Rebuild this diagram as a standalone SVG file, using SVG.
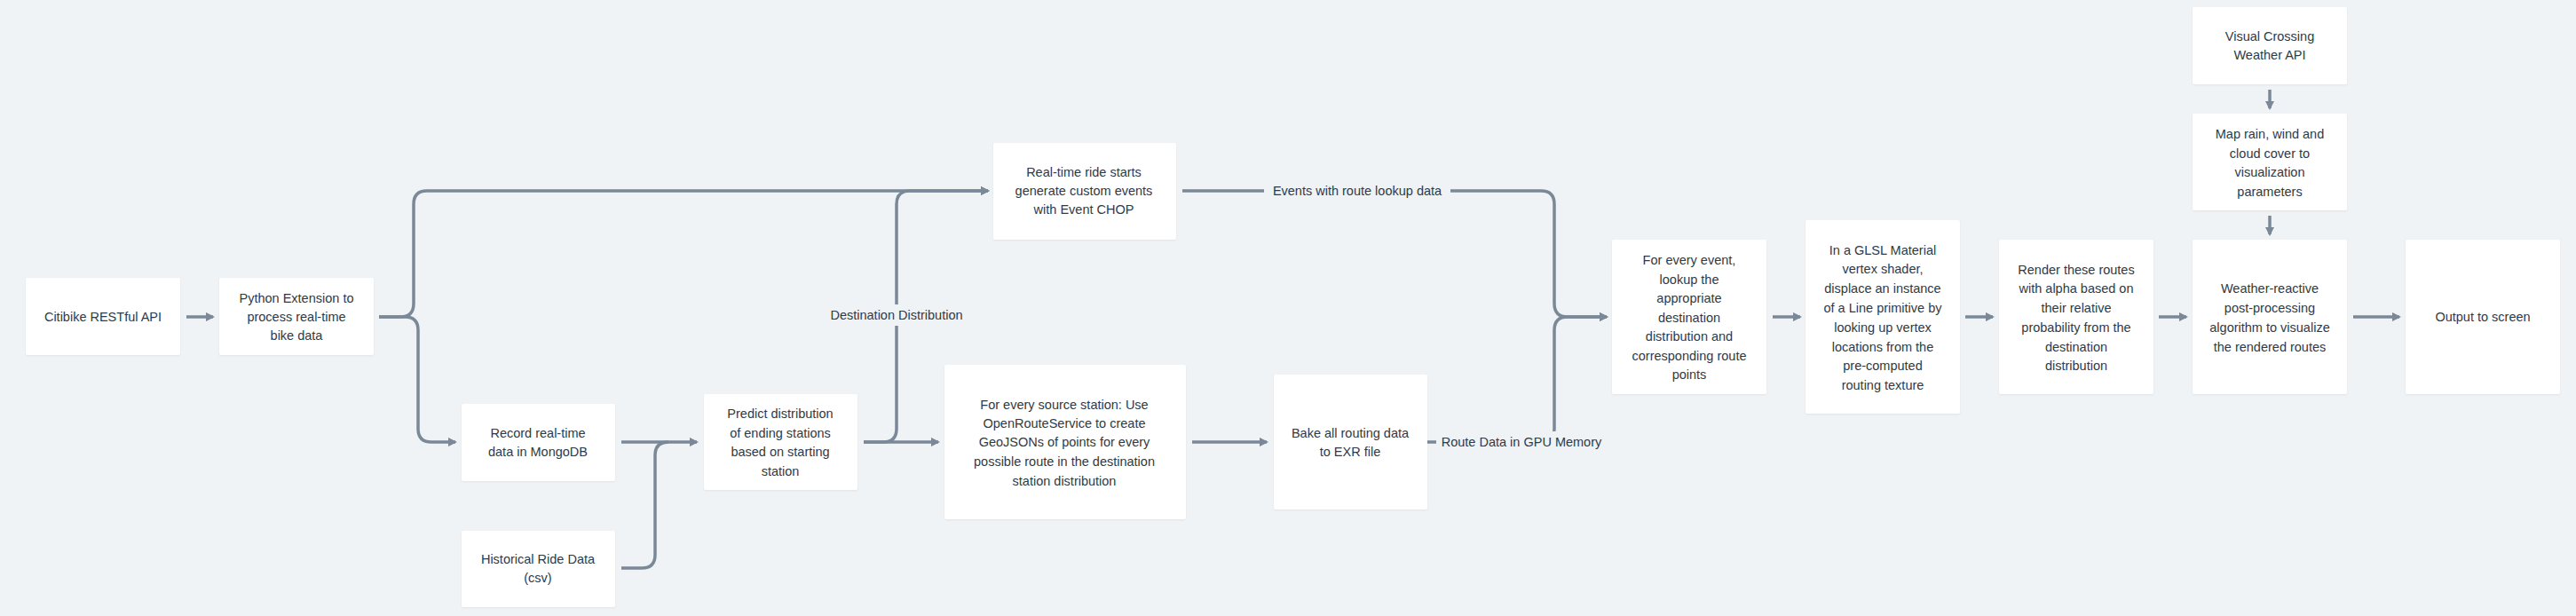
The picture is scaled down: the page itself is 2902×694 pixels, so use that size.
<svg xmlns="http://www.w3.org/2000/svg" width="2902" height="694" viewBox="0 0 2902 694">
<style>
.n rect{fill:#fff;filter:drop-shadow(0 1px 1px rgba(0,0,0,0.06))}
text{font-family:"Liberation Sans",Arial,sans-serif;font-size:14.5px;fill:#2f3a45;text-anchor:middle;dominant-baseline:central}
.c path{fill:none;stroke:#7a8898;stroke-width:3.5;marker-end:url(#a)}
.c path.nm{marker-end:none}
.lb{fill:#eff3f6}
</style>
<defs><marker id="a" viewBox="0 0 10 10" refX="8" refY="5" markerWidth="3" markerHeight="3" orient="auto" markerUnits="strokeWidth"><path d="M0,0 L10,5 L0,10 z" fill="#7a8898"/></marker></defs>
<rect width="2902" height="694" fill="#eff3f6"/>
<g class="c">
<path d="M210,357 H240"/>
<path d="M427,357 H451 Q466,357 466,342 V230 Q466,215 481,215 H1113"/>
<path d="M427,357 H456 Q471,357 471,372 V483 Q471,498 486,498 H513"/>
<path d="M700,498 H785"/>
<path class="nm" d="M700,640 H723 Q738,640 738,625 V513 Q738,498 753,498"/>
<path d="M973,498 H995 Q1010,498 1010,483 V230 Q1010,215 1025,215 H1113"/>
<path d="M973,498 H1057"/>
<path d="M1343,498 H1427"/>
<path d="M1332,215 H1736 Q1751,215 1751,230 V342 Q1751,357 1766,357 H1810"/>
<path d="M1608,498 H1736 Q1751,498 1751,483 V372 Q1751,357 1766,357 H1810"/>
<path d="M1997,357 H2028"/>
<path d="M2214,357 H2245"/>
<path d="M2432,357 H2463"/>
<path d="M2651,357 H2703"/>
<path d="M2557,101 V122"/>
<path d="M2557,243 V264"/>
<rect class="lb" x="923" y="343" width="174" height="24"/>
<text x="1010" y="355">Destination Distribution</text>
<rect class="lb" x="1424" y="203" width="210" height="24"/>
<text x="1529" y="215">Events with route lookup data</text>
<rect class="lb" x="1618" y="486" width="194" height="24"/>
<text x="1714" y="498">Route Data in GPU Memory</text>
</g>
<g id="citibike" class="n"><rect x="29" y="313" width="174" height="87" rx="2"/><text x="116" y="357">Citibike RESTful API</text></g>
<g id="python" class="n"><rect x="247" y="313" width="174" height="87" rx="2"/><text x="334" y="336">Python Extension to</text><text x="334" y="357">process real-time</text><text x="334" y="378">bike data</text></g>
<g id="record" class="n"><rect x="520" y="455" width="173" height="87" rx="2"/><text x="606" y="488">Record real-time</text><text x="606" y="509">data in MongoDB</text></g>
<g id="historical" class="n"><rect x="520" y="598" width="173" height="86" rx="2"/><text x="606" y="630">Historical Ride Data</text><text x="606" y="651">(csv)</text></g>
<g id="predict" class="n"><rect x="793" y="444" width="173" height="108" rx="2"/><text x="879" y="466">Predict distribution</text><text x="879" y="488">of ending stations</text><text x="879" y="509">based on starting</text><text x="879" y="531">station</text></g>
<g id="realtime" class="n"><rect x="1119" y="161" width="206" height="109" rx="2"/><text x="1221" y="194">Real-time ride starts</text><text x="1221" y="215">generate custom events</text><text x="1221" y="236">with Event CHOP</text></g>
<g id="source" class="n"><rect x="1064" y="411" width="272" height="174" rx="2"/><text x="1199" y="456">For every source station: Use</text><text x="1199" y="477">OpenRouteService to create</text><text x="1199" y="498">GeoJSONs of points for every</text><text x="1199" y="520">possible route in the destination</text><text x="1199" y="542">station distribution</text></g>
<g id="bake" class="n"><rect x="1435" y="422" width="173" height="152" rx="2"/><text x="1521" y="488">Bake all routing data</text><text x="1521" y="509">to EXR file</text></g>
<g id="event" class="n"><rect x="1816" y="270" width="174" height="174" rx="2"/><text x="1903" y="293">For every event,</text><text x="1903" y="315">lookup the</text><text x="1903" y="336">appropriate</text><text x="1903" y="358">destination</text><text x="1903" y="379">distribution and</text><text x="1903" y="401">corresponding route</text><text x="1903" y="422">points</text></g>
<g id="glsl" class="n"><rect x="2034" y="248" width="174" height="218" rx="2"/><text x="2121" y="282">In a GLSL Material</text><text x="2121" y="303">vertex shader,</text><text x="2121" y="325">displace an instance</text><text x="2121" y="347">of a Line primitive by</text><text x="2121" y="369">looking up vertex</text><text x="2121" y="391">locations from the</text><text x="2121" y="412">pre-computed</text><text x="2121" y="434">routing texture</text></g>
<g id="render" class="n"><rect x="2252" y="270" width="174" height="174" rx="2"/><text x="2339" y="304">Render these routes</text><text x="2339" y="325">with alpha based on</text><text x="2339" y="347">their relative</text><text x="2339" y="369">probability from the</text><text x="2339" y="391">destination</text><text x="2339" y="412">distribution</text></g>
<g id="weatherapi" class="n"><rect x="2470" y="8" width="174" height="87" rx="2"/><text x="2557" y="41">Visual Crossing</text><text x="2557" y="62">Weather API</text></g>
<g id="map" class="n"><rect x="2470" y="128" width="174" height="109" rx="2"/><text x="2557" y="151">Map rain, wind and</text><text x="2557" y="173">cloud cover to</text><text x="2557" y="194">visualization</text><text x="2557" y="216">parameters</text></g>
<g id="weather" class="n"><rect x="2470" y="270" width="174" height="174" rx="2"/><text x="2557" y="325">Weather-reactive</text><text x="2557" y="347">post-processing</text><text x="2557" y="369">algorithm to visualize</text><text x="2557" y="391">the rendered routes</text></g>
<g id="output" class="n"><rect x="2710" y="270" width="174" height="174" rx="2"/><text x="2797" y="357">Output to screen</text></g>
</svg>
